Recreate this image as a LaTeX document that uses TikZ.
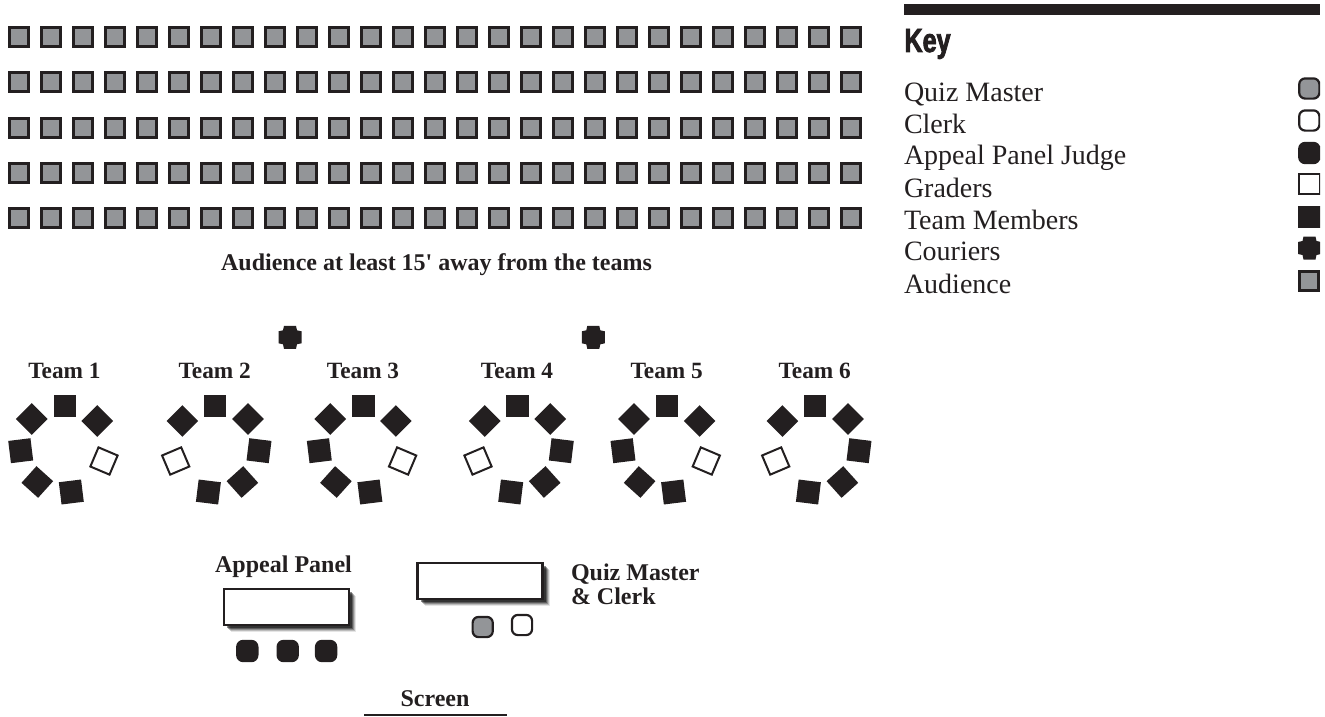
\documentclass[tikz,border=0pt]{standalone}
\usepackage{fontspec}
\newfontfamily\seriffont{Liberation Serif}
\newfontfamily\keyfont[FakeStretch=0.75,FakeBold=2.5]{Liberation Sans}
\usetikzlibrary{positioning,shadows,calc}
\definecolor{ink}{HTML}{231F20}
\definecolor{seat}{HTML}{939598}
\tikzset{every picture/.style={line width=0.75pt}}
\tikzset{
    every node/.style={outer sep=0pt, inner sep=0pt, text=ink, font=\seriffont},
    boldlabel/.style={font=\seriffont\bfseries\fontsize{23.3pt}{27pt}\selectfont, anchor=base},
    biglabel/.style={font=\seriffont\bfseries\fontsize{24pt}{28pt}\selectfont, anchor=base},
    keylabel/.style={font=\seriffont\fontsize{28pt}{32pt}\selectfont, anchor=base west},
    audience/.style={draw=ink, fill=seat, line width=3pt, minimum size=19pt},
    member/.style={fill=ink, minimum size=22.4pt},
    grader/.style={draw=ink, fill=white, line width=2pt, minimum size=20.8pt},
    judge/.style={fill=ink, minimum size=22.4pt, rounded corners=7pt},
    master/.style={draw=ink, fill=seat, line width=2.2pt, minimum size=20.2pt, rounded corners=6pt},
    clerk/.style={draw=ink, fill=white, line width=2.2pt, minimum size=20.2pt, rounded corners=6pt},
    tablebox/.style={draw=ink, fill=white, line width=2.5pt, minimum width=125pt, minimum height=36pt,
        drop shadow={shadow xshift=7pt, shadow yshift=-7pt, fill=black, opacity=.1},
        drop shadow={shadow xshift=6pt, shadow yshift=-6pt, fill=black, opacity=.18},
        drop shadow={shadow xshift=5pt, shadow yshift=-5pt, fill=black, opacity=.25},
        drop shadow={shadow xshift=4pt, shadow yshift=-4pt, fill=black, opacity=.35},
        drop shadow={shadow xshift=3pt, shadow yshift=-3pt, fill=black, opacity=.45}},
    courier/.pic={
        \fill[ink] (-6,-11.5) -- (6,-11.5) -- (7,-7) -- (11.5,-6) -- (11.5,6) -- (7,7)
            -- (6,11.5) -- (-6,11.5) -- (-7,7) -- (-11.5,6) -- (-11.5,-6) -- (-7,-7) -- cycle;
    }
}

\begin{document}
\begin{tikzpicture}[x=1pt, y=-1pt]
    \useasboundingbox (0,0) rectangle (1325,717);
    \foreach \r/\y in {1/37, 2/82, 3/128, 4/173, 5/218} {
        \foreach \c in {0,...,26} {
            \node[audience] (a\r-\c) at ({19+32*\c},\y) {};
        }
    }
    \node[biglabel] (crowd) at (436.5,270.5) {Audience at least 15' away from the teams};

    \pic at (290,337.3) {courier};
    \pic at (593.3,337.3) {courier};

    \foreach \t/\cx/\side in {1/64.7/1, 2/215/-1, 3/363.3/1, 4/517.3/-1, 5/667/1, 6/815/-1} {
        \node[boldlabel] (team\t) at ({\cx-0.3},378) {Team \t};
        \node[member] (t\t-top) at (\cx,406) {};
        \node[member, rotate=45] (t\t-a) at ({\cx-\side*33},{406+13}) {};
        \node[member, rotate=45] (t\t-b) at ({\cx+\side*32.6},{406+15}) {};
        \node[member, rotate=\side*7] (t\t-c) at ({\cx-\side*44},{406+44.7}) {};
        \node[member, rotate=\side*48] (t\t-d) at ({\cx-\side*27.4},{406+76}) {};
        \node[member, rotate=\side*7] (t\t-e) at ({\cx+\side*6.6},{406+86}) {};
        \node[grader, rotate=-\side*23] (t\t-f) at ({\cx+\side*39.3},{406+55}) {};
    }

    \node[tablebox] (appeal) at (286.5,607) {};
    \node[biglabel] (appeallabel) at (283.5,572.7) {Appeal Panel};
    \node[judge] (j1) at (247.3,651) {};
    \node[judge, right=18pt of j1] (j2) {};
    \node[judge, right=16pt of j2] (j3) {};

    \node[tablebox] (quiz) at (480,581) {};
    \node[biglabel, anchor=base west] (quizlabel) at (571,580) {Quiz Master};
    \node[biglabel, anchor=base west] (clerklabel) at (571,604) {\& Clerk};
    \node[master] (qm) at (482.7,627) {};
    \node[clerk] (cl) at (522,625) {};

    \node[biglabel] (screen) at (435,706.7) {Screen};
    \coordinate (sl) at (364,715);
    \coordinate (sr) at (507,715);
    \draw[ink, line width=1.3pt] (sl) -- (sr);

    \node[fill=ink, anchor=north west, minimum width=416pt, minimum height=11pt] (bar) at (904,4) {};
    \node[anchor=base west, font=\keyfont\bfseries\fontsize{33.5pt}{36pt}\selectfont] (key) at (904.5,52) {Key};
    \foreach \n/\y/\txt in {1/101/Quiz Master, 2/133/Clerk, 3/164.5/Appeal Panel Judge, 4/197/Graders,
        5/229/Team Members, 6/260/Couriers, 7/293/Audience} {
        \node[keylabel] (k\n) at (904,\y) {\txt};
    }
    \begin{scope}
        \clip (1290,70) rectangle (1320,300);
        \node[master] (s1) at (1309.3,88.5) {};
        \node[clerk] (s2) at (1309.3,120.5) {};
        \node[judge] (s3) at (1309.3,153) {};
        \node[grader] (s4) at (1309.3,184) {};
        \node[member] (s5) at (1309.3,217) {};
        \pic at (1309.5,248) {courier};
        \node[audience] (s7) at (1309.3,281) {};
    \end{scope}
\end{tikzpicture}
\end{document}
